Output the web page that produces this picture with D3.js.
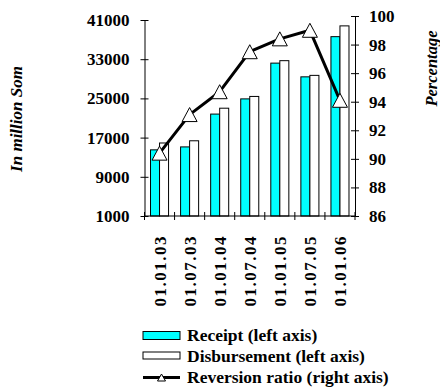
<!DOCTYPE html>
<html><head><meta charset="utf-8">
<script src="https://cdn.jsdelivr.net/npm/d3@7"></script>
<style>
html,body{margin:0;padding:0;background:#fff;}
svg text{font-family:"Liberation Serif","Times New Roman",Times,"DejaVu Serif",serif !important;font-weight:bold;}
</style></head>
<body>
<svg id="c" width="440" height="387"></svg>
<script>
const categories = ["01.01.03","01.07.03","01.01.04","01.07.04","01.01.05","01.07.05","01.01.06"];
const receipt = [14500, 15100, 21800, 24900, 32200, 29400, 37600];
const disbursement = [15900, 16350, 23000, 25400, 32700, 29700, 39800];
const reversionRatio = [90.4, 93.1, 94.7, 97.5, 98.4, 99.0, 94.1];
const leftTicks = [1000, 9000, 17000, 25000, 33000, 41000];
const rightTicks = [86, 88, 90, 92, 94, 96, 98, 100];
const legendLabels = ["Receipt (left axis)", "Disbursement (left axis)", "Reversion ratio (right axis)"];

const svg = d3.select("#c");
const xL = 144.5, xR = 355, yB = 216;

const x = d3.scaleBand().domain(categories).range([xL, xR]).paddingInner(0).paddingOuter(0);
const yL = d3.scaleLinear().domain([1000, 41000]).range([yB, 20]);
const yR = d3.scaleLinear().domain([86, 100]).range([yB, 16]);

const bw = x.bandwidth() * 0.3;
const off = (x.bandwidth() - 2 * bw) / 2;

// bars
svg.append("g").selectAll("rect").data(categories).join("rect")
  .attr("x", d => x(d) + off).attr("y", (d, i) => yL(receipt[i]))
  .attr("width", bw).attr("height", (d, i) => yB - yL(receipt[i]))
  .attr("fill", "#00ffff").attr("stroke", "#000").attr("stroke-width", 1);
svg.append("g").selectAll("rect").data(categories).join("rect")
  .attr("x", d => x(d) + off + bw).attr("y", (d, i) => yL(disbursement[i]))
  .attr("width", bw).attr("height", (d, i) => yB - yL(disbursement[i]))
  .attr("fill", "#fff").attr("stroke", "#000").attr("stroke-width", 1);

// left axis
const gl = svg.append("g").attr("transform", `translate(${xL},0)`)
  .call(d3.axisLeft(yL).tickValues(leftTicks).tickFormat(d3.format("d")).tickSizeInner(4).tickSizeOuter(0).tickPadding(11));
gl.select(".domain").attr("stroke", "#000");
gl.selectAll(".tick line").attr("x1", 4).attr("x2", -4).attr("stroke", "#000");
gl.selectAll(".tick text").attr("font-size", 17).attr("fill", "#000");

// right axis
const gr = svg.append("g").attr("transform", `translate(${xR},0)`)
  .call(d3.axisRight(yR).tickValues(rightTicks).tickSizeInner(4).tickSizeOuter(0).tickPadding(10));
gr.select(".domain").attr("stroke", "#000");
gr.selectAll(".tick line").attr("x1", -4).attr("x2", 4).attr("stroke", "#000");
gr.selectAll(".tick text").attr("font-size", 17).attr("fill", "#000");

// bottom axis
svg.append("line").attr("x1", xL).attr("x2", xR).attr("y1", yB).attr("y2", yB).attr("stroke", "#000");
const edges = categories.map(c => x(c)).concat([xR]);
svg.append("g").selectAll("line").data(edges).join("line")
  .attr("x1", d => d).attr("x2", d => d).attr("y1", yB - 4).attr("y2", yB + 4).attr("stroke", "#000");
svg.append("g").selectAll("text").data(categories).join("text")
  .attr("transform", d => `translate(${x(d) + x.bandwidth() / 2 + 6},235) rotate(-90)`)
  .attr("text-anchor", "end").attr("font-size", 17).attr("letter-spacing", 1.5)
  .text(d => d);

// line
const line = d3.line().x((d, i) => x(categories[i]) + x.bandwidth() / 2).y(d => yR(d));
svg.append("path").datum(reversionRatio).attr("d", line)
  .attr("fill", "none").attr("stroke", "#000").attr("stroke-width", 3).attr("stroke-linejoin", "round");
const tri = (w, h) => `M0,${-h / 2}L${w / 2},${h / 2}L${-w / 2},${h / 2}Z`;
svg.append("g").selectAll("path").data(reversionRatio).join("path")
  .attr("transform", (d, i) => `translate(${x(categories[i]) + x.bandwidth() / 2},${yR(d)})`)
  .attr("d", tri(15, 14)).attr("fill", "#fff").attr("stroke", "#000").attr("stroke-width", 1);

// axis titles
svg.append("text").attr("transform", "translate(22,119) rotate(-90)")
  .attr("text-anchor", "middle").attr("font-size", 17).attr("font-style", "italic").text("In million Som");
svg.append("text").attr("transform", "translate(437,68.5) rotate(-90)")
  .attr("text-anchor", "middle").attr("font-size", 16.5).attr("font-style", "italic").text("Percentage");

// legend
const lg = svg.append("g");
const lx = 143, lw = 37, rows = [335.5, 355.5, 377.5], tys = [341, 362, 382.5];
lg.append("rect").attr("x", lx).attr("y", rows[0] - 4).attr("width", lw).attr("height", 8)
  .attr("fill", "#00ffff").attr("stroke", "#000");
lg.append("rect").attr("x", lx).attr("y", rows[1] - 3.5).attr("width", lw).attr("height", 7)
  .attr("fill", "#fff").attr("stroke", "#000");
lg.append("line").attr("x1", lx).attr("x2", lx + lw).attr("y1", rows[2]).attr("y2", rows[2])
  .attr("stroke", "#000").attr("stroke-width", 3);
lg.append("path").attr("transform", `translate(${lx + lw / 2},${rows[2]})`)
  .attr("d", tri(8, 7)).attr("fill", "#fff").attr("stroke", "#000");
lg.selectAll("text").data(legendLabels).join("text")
  .attr("x", 187).attr("y", (d, i) => tys[i]).attr("font-size", 17.5).text(d => d);
</script>
</body></html>
